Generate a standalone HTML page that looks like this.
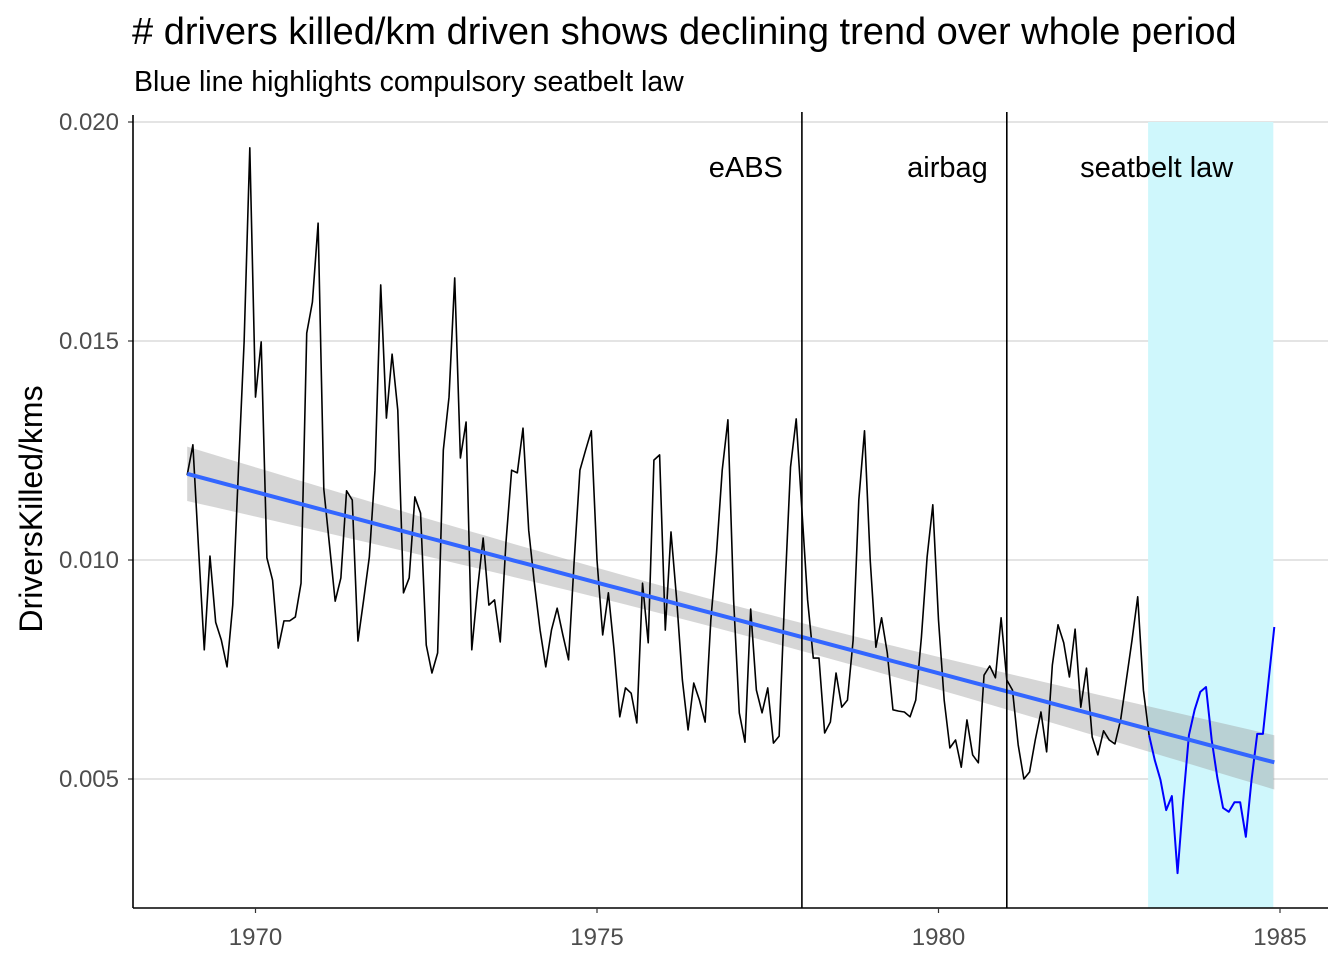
<!DOCTYPE html>
<html><head><meta charset="utf-8">
<style>
html,body{margin:0;padding:0;background:#fff;}
svg{display:block;font-family:"Liberation Sans",Arial,sans-serif;}
</style></head>
<body>
<svg id="chart" width="1344" height="960" viewBox="0 0 1344 960" xmlns="http://www.w3.org/2000/svg">
<text x="132" y="44" font-size="38" fill="#000">&#35; drivers killed/km driven shows declining trend over whole period</text>
<text x="134" y="91" font-size="28.5" fill="#000">Blue line highlights compulsory seatbelt law</text>
<text transform="translate(42,509) rotate(-90)" text-anchor="middle" font-size="32" fill="#000">DriversKilled/kms</text>
<g id="grid"></g>
<g id="band"></g>
<g id="series"></g>
<g id="axes"></g>
</svg>
<script>
const startYear = 1969;
const values = [
11.94,12.63,10.25,7.95,10.09,8.58,8.17,7.56,8.97,12.05,14.98,19.41,
13.72,14.98,10.05,9.54,7.99,8.61,8.61,8.70,9.47,15.18,15.89,17.69,
11.62,10.34,9.06,9.59,11.58,11.37,8.15,9.09,10.07,12.05,16.28,13.24,
14.70,13.42,9.25,9.59,11.44,11.07,8.06,7.42,7.88,12.51,13.72,16.44,
12.33,13.15,7.95,9.32,10.50,8.97,9.09,8.13,10.39,12.05,11.99,13.01,
10.68,9.47,8.40,7.56,8.40,8.90,8.29,7.72,10.00,12.05,12.51,12.95,
10.00,8.29,9.25,7.95,6.42,7.08,6.96,6.28,9.47,8.11,12.28,12.40,
8.40,10.64,9.09,7.26,6.12,7.19,6.80,6.30,8.63,10.16,12.05,13.20,
9.09,6.51,5.84,8.88,7.03,6.51,7.08,5.82,5.98,9.25,12.12,13.22,
11.14,9.09,7.76,7.76,6.05,6.30,7.42,6.64,6.80,8.17,11.37,12.95,
10.00,8.01,8.68,7.88,6.58,6.55,6.53,6.42,6.80,8.24,10.07,11.26,
8.63,6.80,5.71,5.89,5.27,6.35,5.55,5.37,7.37,7.58,7.31,8.68,
7.26,7.03,5.78,5.00,5.16,5.89,6.53,5.62,7.60,8.52,8.11,7.33,
8.42,6.64,7.53,5.96,5.55,6.10,5.89,5.80,6.35,7.26,8.17,9.16,
7.03,6.00,5.43,4.98,4.29,4.61,2.85,4.52,6.00,6.58,6.99,7.10,
5.89,5.02,4.34,4.25,4.47,4.47,3.68,4.98,6.03,6.03,7.26,8.47
].map(v => v / 1000);
const yTicks = [0.005, 0.010, 0.015, 0.020];
const yTickLabels = ["0.005", "0.010", "0.015", "0.020"];
const xTicks = [1970, 1975, 1980, 1985];
const eventYears = [1978, 1981];
const eventLabels = ["eABS", "airbag"];
const lawStart = 1983.0833;
const lawEnd = 1984.9167;
const lawLabel = "seatbelt law";

const X0 = 133, X1 = 1328, Ytop = 115, Ybot = 908;
const xs = v => 255.5 + (v - 1970) * 68.3;
const ys = v => 560 - (v - 0.010) * 43800;
const NS = "http://www.w3.org/2000/svg";
function mk(tag, attrs, parent) {
  const e = document.createElementNS(NS, tag);
  for (const k in attrs) e.setAttribute(k, attrs[k]);
  parent.appendChild(e);
  return e;
}
const grid = document.getElementById('grid');
const band = document.getElementById('band');
const series = document.getElementById('series');
const axes = document.getElementById('axes');

yTicks.forEach((t, i) => {
  const g = mk('line', {x1: X0, x2: X1, y1: ys(t), y2: ys(t), stroke: '#d3d3d3', 'stroke-width': 1.2}, grid);
  
  
  const tk = mk('line', {x1: X0 - 5, x2: X0, y1: ys(t), y2: ys(t), stroke: '#333', 'stroke-width': 1.2}, axes);
  
  
  const lb = mk('text', {x: X0 - 14, y: ys(t) + 8, 'text-anchor': 'end', 'font-size': 24, fill: '#4d4d4d'}, axes);
  lb.textContent = yTickLabels[i];
  
  
});
const sh = mk('rect', {x: xs(lawStart) - 1, y: ys(0.020), width: xs(lawEnd) - xs(lawStart), height: Ybot - ys(0.020), fill: '#cff7fc'}, grid);



const n = values.length;
const tx = values.map((v, i) => startYear + i / 12);
const mx = tx.reduce((a, b) => a + b) / n, my = values.reduce((a, b) => a + b) / n;
let sxx = 0, sxy = 0;
for (let i = 0; i < n; i++) { sxx += (tx[i] - mx) ** 2; sxy += (tx[i] - mx) * (values[i] - my); }
const b1 = sxy / sxx, b0 = my - b1 * mx;
let sse = 0;
for (let i = 0; i < n; i++) sse += (values[i] - b0 - b1 * tx[i]) ** 2;
const s = Math.sqrt(sse / (n - 2));
const up = [], lo = [], mid = [];
for (let k = 0; k <= 80; k++) {
  const t = tx[0] + (tx[n - 1] - tx[0]) * k / 80;
  const f = b0 + b1 * t;
  const se = 1.973 * s * Math.sqrt(1 / n + (t - mx) ** 2 / sxx);
  up.push(xs(t) + ',' + ys(f + se));
  lo.push(xs(t) + ',' + ys(f - se));
  mid.push(xs(t) + ',' + ys(f));
}
const bp = mk('polygon', {points: up.concat(lo.reverse()).join(' '), fill: '#999', 'fill-opacity': 0.4}, band);



const lawIdx = values.findIndex((v, i) => tx[i] >= lawStart - 0.001);
const pre = values.slice(0, lawIdx + 1).map((v, i) => xs(tx[i]) + ',' + ys(v)).join(' ');
const post = values.slice(lawIdx).map((v, i) => xs(tx[i + lawIdx]) + ',' + ys(v)).join(' ');
const l1 = mk('polyline', {points: pre, fill: 'none', stroke: '#000', 'stroke-width': 1.6, 'stroke-linejoin': 'round'}, series);


const l2 = mk('polyline', {points: post, fill: 'none', stroke: '#0000ff', 'stroke-width': 2, 'stroke-linejoin': 'round'}, series);


const tl = mk('polyline', {points: mid.join(' '), fill: 'none', stroke: '#3366ff', 'stroke-width': 4}, series);



eventYears.forEach((yr, i) => {
  const vl = mk('line', {x1: xs(yr), x2: xs(yr), y1: 112, y2: Ybot, stroke: '#000', 'stroke-width': 1.6}, series);
  
  
  const t = mk('text', {x: xs(yr) - 19, y: 177, 'text-anchor': 'end', 'font-size': 29, fill: '#000'}, series);
  t.textContent = eventLabels[i];
  
  
});
const lt = mk('text', {x: (xs(lawStart) + xs(lawEnd)) / 2 - 55, y: 177, 'text-anchor': 'middle', 'font-size': 29, fill: '#000'}, series);
lt.textContent = lawLabel;



const ya = mk('line', {x1: X0, x2: X0, y1: Ytop, y2: Ybot, stroke: '#000', 'stroke-width': 1.6}, axes);


const xa = mk('line', {x1: X0, x2: X1, y1: Ybot, y2: Ybot, stroke: '#000', 'stroke-width': 1.6}, axes);


xTicks.forEach(t => {
  const tk = mk('line', {x1: xs(t), x2: xs(t), y1: Ybot, y2: Ybot + 5, stroke: '#333', 'stroke-width': 1.2}, axes);
  
  
  const lb = mk('text', {x: xs(t), y: 945, 'text-anchor': 'middle', 'font-size': 24, fill: '#4d4d4d'}, axes);
  lb.textContent = t;
  
  
});
</script>
</body></html>
